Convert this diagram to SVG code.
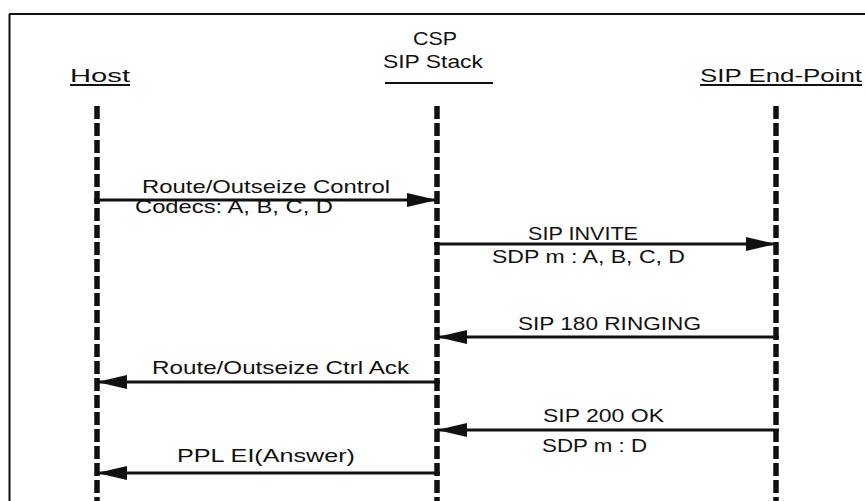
<svg xmlns="http://www.w3.org/2000/svg" width="865" height="501" viewBox="0 0 865 501">
<style>
text{font-family:"Liberation Sans",Arial,sans-serif;font-size:19px;fill:#111;}
.frame{stroke:#111;stroke-width:2;fill:none;}
.life{stroke:#111;stroke-width:5.5;stroke-dasharray:13 4;fill:none;}
.msg{stroke:#111;stroke-width:3;fill:none;}
.ul{stroke:#111;stroke-width:2;}
</style>
<defs>
<marker id="ah" markerUnits="userSpaceOnUse" markerWidth="30" markerHeight="16" refX="30" refY="8" orient="auto">
<path d="M0,1 L30,8 L0,15 z" fill="#111"/>
</marker>
</defs>
<rect width="865" height="501" fill="#fff"/>
<g id="frame">
<line class="frame" x1="9" y1="14" x2="865" y2="14"/>
<line class="frame" x1="9.5" y1="14" x2="9.5" y2="501"/>
</g>
<g id="host">
<text x="70" y="82" textLength="60" lengthAdjust="spacingAndGlyphs">Host</text>
<line class="ul" x1="70" y1="85" x2="130" y2="85"/>
<line class="life" x1="97" y1="106" x2="97" y2="501"/>
</g>
<g id="csp">
<text x="413" y="45" textLength="44" lengthAdjust="spacingAndGlyphs">CSP</text>
<text x="383" y="68" textLength="100" lengthAdjust="spacingAndGlyphs">SIP Stack</text>
<line class="ul" x1="385" y1="83" x2="493" y2="83"/>
<line class="life" x1="437" y1="106" x2="437" y2="501"/>
</g>
<g id="endpoint">
<text x="700" y="82" textLength="162" lengthAdjust="spacingAndGlyphs">SIP End-Point</text>
<line class="ul" x1="700" y1="85" x2="862" y2="85"/>
<line class="life" x1="776" y1="106" x2="776" y2="501"/>
</g>
<g id="connectors">
<line class="msg" x1="94" y1="200" x2="437" y2="200" marker-end="url(#ah)"/>
<text x="142" y="193" textLength="248" lengthAdjust="spacingAndGlyphs">Route/Outseize Control</text>
<text x="135" y="213" textLength="198" lengthAdjust="spacingAndGlyphs">Codecs: A, B, C, D</text>

<line class="msg" x1="434" y1="244" x2="776" y2="244" marker-end="url(#ah)"/>
<text x="528" y="240" textLength="110" lengthAdjust="spacingAndGlyphs">SIP INVITE</text>
<text x="492" y="263" textLength="193" lengthAdjust="spacingAndGlyphs">SDP m : A, B, C, D</text>

<line class="msg" x1="779" y1="337" x2="437" y2="337" marker-end="url(#ah)"/>
<text x="518" y="330" textLength="183" lengthAdjust="spacingAndGlyphs">SIP 180 RINGING</text>

<line class="msg" x1="440" y1="382" x2="97" y2="382" marker-end="url(#ah)"/>
<text x="152" y="374" textLength="257" lengthAdjust="spacingAndGlyphs">Route/Outseize Ctrl Ack</text>

<line class="msg" x1="779" y1="430" x2="437" y2="430" marker-end="url(#ah)"/>
<text x="543" y="422" textLength="121" lengthAdjust="spacingAndGlyphs">SIP 200 OK</text>
<text x="542" y="452" textLength="105" lengthAdjust="spacingAndGlyphs">SDP m : D</text>

<line class="msg" x1="440" y1="473" x2="97" y2="473" marker-end="url(#ah)"/>
<text x="177" y="462" textLength="178" lengthAdjust="spacingAndGlyphs">PPL EI(Answer)</text>
</g>
</svg>
